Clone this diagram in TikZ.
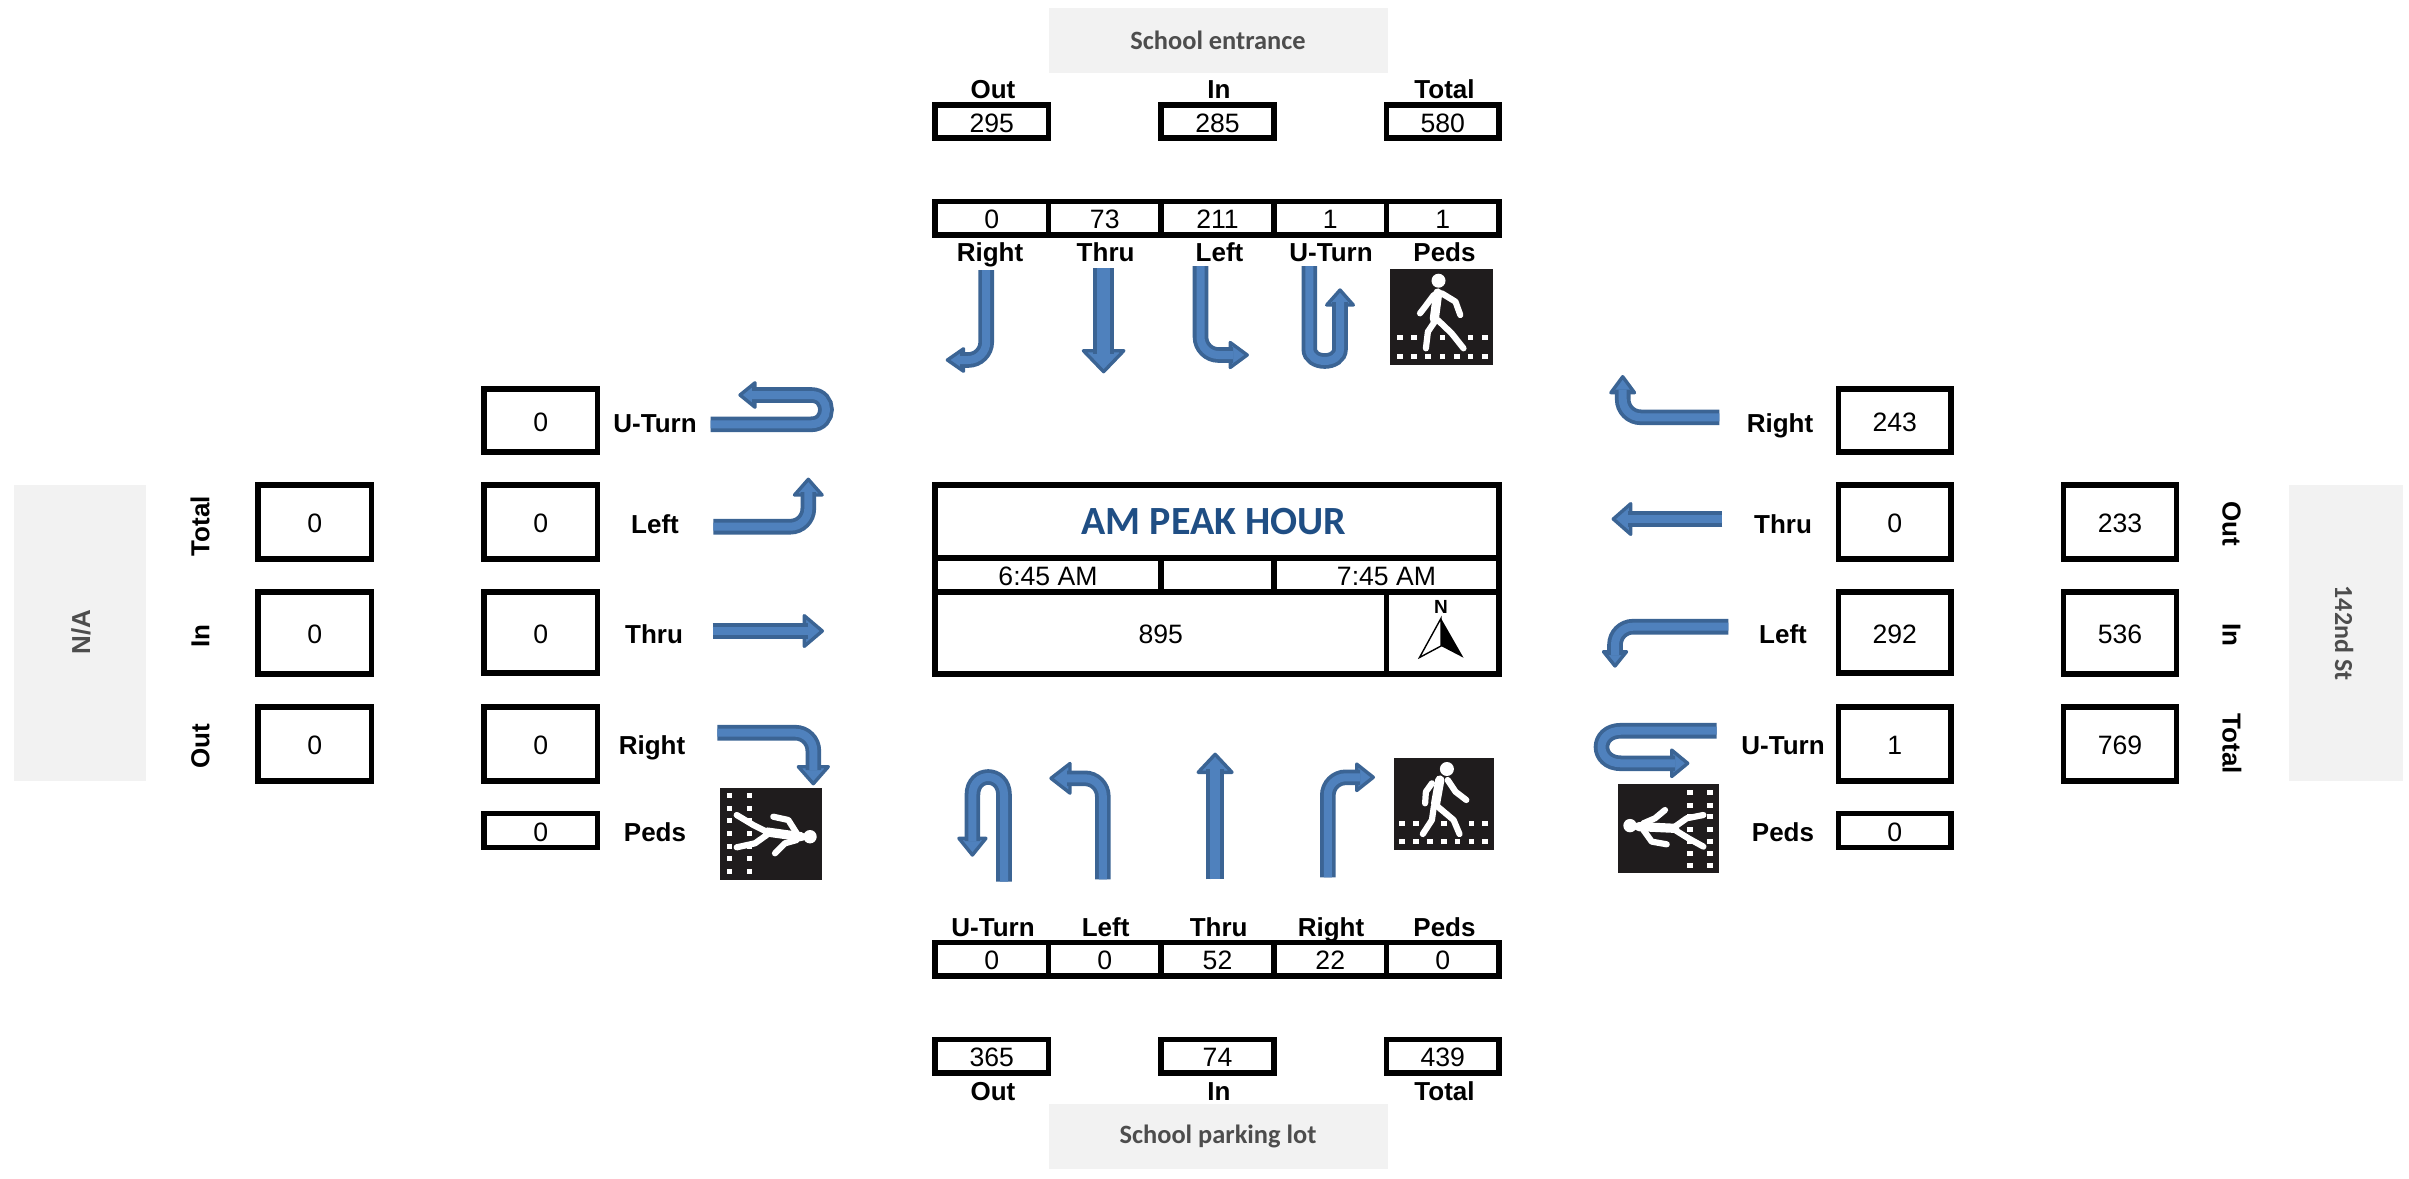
\documentclass[tikz,border=0pt]{standalone}
\usepackage{fontspec}
\setmainfont{Liberation Sans}
\newfontfamily\cb{Carlito}
\definecolor{flowin}{HTML}{4F81BD}
\definecolor{flowout}{HTML}{3B6494}
\definecolor{greyband}{HTML}{F2F2F2}
\definecolor{greytext}{HTML}{4D4D4D}
\definecolor{titleblue}{HTML}{1F4E84}
\definecolor{iconblack}{HTML}{1F1C1D}
\tikzset{
  bxs/.style={draw=black,line width=2.6pt,fill=white,miter limit=10},
  band/.style={fill=greyband,draw=none},
  val/.style={inner sep=0pt,font=\fontsize{13.3}{14}\selectfont,text height=9.6pt,text depth=0pt,yshift=-0.5pt},
  lab/.style={inner sep=0pt,font=\bfseries\fontsize{13}{14}\selectfont,text height=9.3pt,text depth=0pt,yshift=-0.5pt},
  bandtext/.style={inner sep=0pt,text=greytext,font=\cb\bfseries\fontsize{13.2}{15}\selectfont},
  shaft/.style={line width=1.9pt,draw=flowout,double=flowin,double distance=#1,rounded corners=9pt,line cap=butt},
  shaft/.default=4pt,
  headtip/.style={fill=flowin,draw=flowout,line width=1.7pt,line join=round},
  limb/.style={draw=white,line width=3.1pt,line cap=round,line join=round},
  trunk/.style={draw=white,line width=4.6pt,line cap=round,line join=round}
}
\newcommand\bxc[6]{\draw[bxs] (#2,#3) rectangle (#4,#5) node[pos=.5,val] (#1) {#6};}
\newcommand\hdh[4]{\filldraw[headtip] (#1,{#2-#4+1.5}) -- (#3,#2) -- (#1,{#2+#4-1.5}) -- cycle;}
\newcommand\hdv[4]{\filldraw[headtip] ({#1-#4+1.5},#2) -- (#1,#3) -- ({#1+#4-1.5},#2) -- cycle;}
\newcommand\pdot[2]{\fill[white] ({#1-2.8},{#2-2.5}) rectangle ({#1+2.8},{#2+2.5});}
\begin{document}
\begin{tikzpicture}[x=0.5pt,y=-0.5pt]
\useasboundingbox (0,0) rectangle (2409,1178);
% grey bands
\fill[band] (1048.5,8) rectangle (1387.5,73);
\node[bandtext] (top) at (1218,40) {School entrance};
\fill[band] (1048.5,1104) rectangle (1387.5,1169);
\node[bandtext] (bottom) at (1218,1136) {School parking lot};
\fill[band] (14,485) rectangle (146,781);
\node[inner sep=0pt,text=greytext,font=\bfseries\fontsize{13}{14}\selectfont,rotate=90] (west) at (81,632) {N/A};
\fill[band] (2289,485) rectangle (2403,781);
\node[bandtext,font=\cb\bfseries\fontsize{13}{14}\selectfont,rotate=270] (east) at (2344,633) {142nd St};
% top
\foreach \n/\t/\x in {to/Out/993,ti/In/1219,tt/Total/1444.5}{\node[lab] (\n) at (\x,88) {\t};}
\bxc{tov}{935}{105}{1048.5}{138}{295}
\bxc{tiv}{1161}{105}{1274}{138}{285}
\bxc{ttv}{1386.5}{105}{1499}{138}{580}
\bxc{t1}{935}{201.5}{1048.5}{235}{0}
\bxc{t2}{1048.5}{201.5}{1161}{235}{73}
\bxc{t3}{1161}{201.5}{1274}{235}{211}
\bxc{t4}{1274}{201.5}{1386.5}{235}{1}
\bxc{t5}{1386.5}{201.5}{1499}{235}{1}
\foreach \n/\t/\x in {tr/Right/990,th/Thru/1105.6,tl/Left/1219.5,tu/U-Turn/1331,tp/Peds/1444.5}{\node[lab] (\n) at (\x,251) {\t};}
% bottom
\bxc{b1}{935}{942.5}{1048.5}{976}{0}
\bxc{b2}{1048.5}{942.5}{1161}{976}{0}
\bxc{b3}{1161}{942.5}{1274}{976}{52}
\bxc{b4}{1274}{942.5}{1386.5}{976}{22}
\bxc{b5}{1386.5}{942.5}{1499}{976}{0}
\foreach \n/\t/\x in {bu/U-Turn/993,bl/Left/1105.6,bh/Thru/1218.7,br/Right/1331,bp/Peds/1444.5}{\node[lab] (\n) at (\x,926) {\t};}
\bxc{bov}{935}{1039.5}{1048.5}{1073}{365}
\bxc{biv}{1161}{1039.5}{1274}{1073}{74}
\bxc{btv}{1386.5}{1039.5}{1499}{1073}{439}
\foreach \n/\t/\x in {bo/Out/993,bi/In/1219,bt/Total/1444.5}{\node[lab] (\n) at (\x,1090) {\t};}
% centre panel
\draw[bxs] (935,485) rectangle (1499,558) node[pos=.5,inner sep=0pt,text=titleblue,font=\cb\bfseries\fontsize{20}{22}\selectfont,xshift=-1.5pt] (title) {AM PEAK HOUR};
\bxc{start}{935}{558}{1161}{592}{6:45 AM}
\bxc{mid}{1161}{558}{1274}{592}{}
\bxc{end}{1274}{558}{1499}{592}{7:45 AM}
\bxc{total}{935}{592}{1386.5}{674}{895}
\draw[bxs] (1386.5,592) rectangle (1499,674);
\node[inner sep=0pt,font=\bfseries\fontsize{9.5}{10}\selectfont] (north) at (1441,607) {N};
\draw[line width=0.7pt,fill=white,line join=miter] (1441,618.3) -- (1419.5,657.5) -- (1441,646) -- cycle;
\fill[black] (1441,618.3) -- (1463.5,657.7) -- (1441,646) -- cycle;
% west boxes and labels
\bxc{w1}{484}{389}{597.5}{452}{0}
\bxc{w2}{484}{485}{597.5}{559}{0}
\bxc{w3}{484}{592}{597.5}{673}{0}
\bxc{w4}{484}{707}{597.5}{781}{0}
\bxc{w5}{484}{813.5}{597.5}{847.5}{0}
\foreach \n/\t/\x/\y in {wu/U-Turn/655/422,wl/Left/655/523,wh/Thru/654/633,wr/Right/652/744,wp/Peds/655/831}{\node[lab] (\n) at (\x,\y) {\t};}
% east boxes and labels
\bxc{e1}{1838.5}{389}{1951}{452}{243}
\bxc{e2}{1838.5}{485}{1951}{559}{0}
\bxc{e3}{1838.5}{592}{1951}{673}{292}
\bxc{e4}{1838.5}{707}{1951}{781}{1}
\bxc{e5}{1838.5}{813.5}{1951}{847.5}{0}
\foreach \n/\t/\x/\y in {er/Right/1780/422,eh/Thru/1783/523,el/Left/1783/633,eu/U-Turn/1783/744,ep/Peds/1783/831}{\node[lab] (\n) at (\x,\y) {\t};}
% far west
\bxc{fw1}{258}{485}{371.5}{559}{0}
\bxc{fw2}{258}{592}{371.5}{674}{0}
\bxc{fw3}{258}{707}{371.5}{781}{0}
\foreach \n/\t/\y in {fwt/Total/523,fwi/In/633,fwo/Out/743}{\node[lab,rotate=90,xshift=-1pt] (\n) at (200,\y) {\t};}
% far east
\bxc{fe1}{2063.5}{485}{2176.5}{559}{233}
\bxc{fe2}{2063.5}{592}{2176.5}{674}{536}
\bxc{fe3}{2063.5}{707}{2176.5}{781}{769}
\foreach \n/\t/\y in {feo/Out/523,fei/In/634,fet/Total/743}{\node[lab,rotate=270] (\n) at (2232,\y) {\t};}
% north approach arrows
\hdh{963.5}{360}{947.4}{12.7}
\draw[shaft] (986.2,270) -- (986.2,360) -- (960,360);
\hdv{1103.6}{350.7}{371.7}{21.7}
\draw[shaft=6.6pt] (1103.6,268) -- (1103.6,354);
\hdh{1230.2}{355}{1247.2}{14}
\draw[shaft] (1200.5,266) -- (1200.5,355) -- (1233,355);
\hdv{1340}{305}{290}{14.8}
\draw[shaft,rounded corners=0pt] (1309.3,266) -- (1309.3,349) .. controls (1309.3,365) and (1340,365) .. (1340,349) -- (1340,302);
% south approach arrows
\hdv{972.4}{838.3}{855}{15}
\draw[shaft,rounded corners=0pt] (1004,881.7) -- (1004,795) .. controls (1004,771) and (972.4,771) .. (972.4,795) -- (972.4,841);
\hdh{1070}{778.3}{1051}{16.3}
\draw[shaft] (1102.8,879.3) -- (1102.8,778.3) -- (1067,778.3);
\hdv{1215.1}{772.3}{754.3}{18.4}
\draw[shaft=5pt] (1215.1,879.3) -- (1215.1,769);
\hdh{1356.7}{777.3}{1373.3}{14.7}
\draw[shaft] (1327.8,877.3) -- (1327.8,777.3) -- (1360,777.3);
% west approach arrows
\hdh{755}{395}{740}{13.7}
\draw[shaft,rounded corners=0pt] (710.7,424.3) -- (811.3,424.3) .. controls (830.9,424.3) and (830.9,395) .. (811.3,395) -- (752,395);
\hdv{808.3}{495}{479.3}{15.3}
\draw[shaft] (713.3,526.7) -- (808.3,526.7) -- (808.3,492);
\hdh{804.3}{631}{822.3}{16.8}
\draw[shaft] (712.7,631) -- (807.5,631);
\hdv{813.3}{766.7}{783.7}{16.5}
\draw[shaft] (717.3,732.7) -- (813.3,732.7) -- (813.3,770);
% east approach arrows
\hdv{1622.7}{392.7}{376.7}{13.3}
\draw[shaft] (1719.3,417.3) -- (1622.7,417.3) -- (1622.7,389.5);
\hdh{1630.7}{519}{1613.3}{16.8}
\draw[shaft] (1722.3,519) -- (1627.5,519);
\hdv{1615}{651.7}{666}{13}
\draw[shaft] (1728.3,626.7) -- (1615,626.7) -- (1615,655);
\hdh{1671.7}{763.3}{1687.7}{14.7}
\draw[shaft,rounded corners=0pt] (1716.7,730.7) -- (1621,730.7) .. controls (1595,730.7) and (1595,763.3) .. (1621,763.3) -- (1675,763.3);
% ped icon north
\begin{scope}[shift={(1390.3,269)}]
\fill[iconblack] (0,0) rectangle (102.8,95.7);
\foreach \x in {9.9,23.7,52.2,80.3,94.5}{\pdot{\x}{68.3}}
\foreach \x in {9.9,23.7,37.6,52.2,66.4,80.3,94.5}{\pdot{\x}{87}}
\fill[white] (48.2,11.7) circle (7);
\draw[trunk] (47.4,24) -- (44,50);
\draw[limb] (43.5,26) -- (33.6,39.3) -- (29.7,44.3);
\draw[limb] (51.4,24.3) -- (65.2,32.7) -- (70,46);
\draw[limb] (45.5,51) -- (37.6,62.7) -- (35.6,79.3);
\draw[limb] (47.4,51) -- (61.3,64.3) -- (73.2,79.3);
\end{scope}
% ped icon south
\begin{scope}[shift={(1393.5,758)}]
\fill[iconblack] (0,0) rectangle (100.8,91.7);
\foreach \x in {8.7,22.5,50.2,77.9,91.7}{\pdot{\x}{65.3}}
\foreach \x in {8.7,22.5,36.4,50.2,64,77.9,91.7}{\pdot{\x}{83.7}}
\fill[white] (53.4,11) circle (7);
\draw[trunk] (46.3,22) -- (42,46);
\draw[limb] (38.4,25.3) -- (32.4,33.7) -- (31.6,45.3);
\draw[limb] (54.2,22) -- (62,33.7) -- (72.8,42);
\draw[limb] (40.3,48.7) -- (38.4,62) -- (29.3,76);
\draw[limb] (44.3,48.7) -- (60.1,62) -- (66,76);
\end{scope}
% ped icon west
\begin{scope}[shift={(720,788)}]
\fill[iconblack] (0,0) rectangle (102.3,91.7);
\foreach \y in {7.7,20,32.7,45.3,58,70.3,83}{\pdot{9.3}{\y}\pdot{29.3}{\y}}
\fill[white] (90,48.7) circle (6.7);
\draw[trunk] (81,48.7) -- (47,44);
\draw[limb] (76.7,45.3) -- (68.3,32) -- (53.3,28.7);
\draw[limb] (76.7,52) -- (65,55.3) -- (55,65.3);
\draw[limb] (46.7,43.7) -- (33.3,37) -- (16.7,27);
\draw[limb] (46.7,47) -- (35,55.3) -- (16.7,59.3);
\end{scope}
% ped icon east
\begin{scope}[shift={(1617.7,784.3)}]
\fill[iconblack] (0,0) rectangle (101.6,88.4);
\foreach \y in {8.3,20.7,32.3,45,56.7,69,81.3}{\pdot{72.3}{\y}\pdot{92.3}{\y}}
\fill[white] (12.3,41.3) circle (6.7);
\draw[trunk] (21,42.3) -- (57,44);
\draw[limb] (25.7,39) -- (37.3,34) -- (47.3,25.7);
\draw[limb] (25.7,45.7) -- (34,57.3) -- (49,60);
\draw[limb] (57.3,42.3) -- (69,34) -- (85.7,30.7);
\draw[limb] (57.3,45.7) -- (70.7,54) -- (85.7,62.3);
\end{scope}
\end{tikzpicture}
\end{document}
